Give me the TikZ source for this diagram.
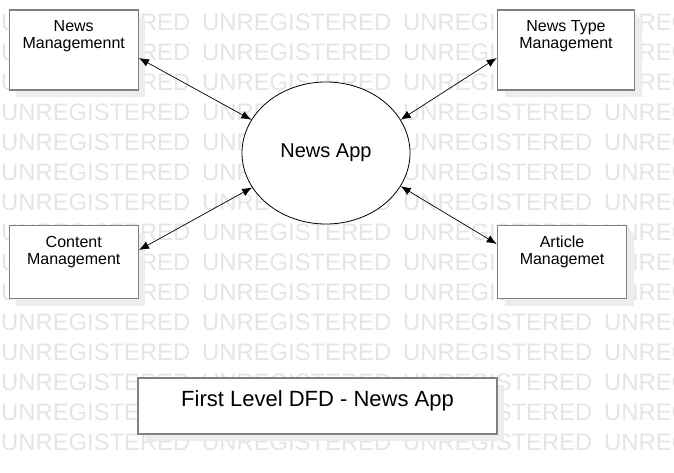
\documentclass[tikz,border=0pt]{standalone}
\usepackage{fontspec}
\setmainfont{Liberation Sans}
\usetikzlibrary{shapes.geometric,arrows.meta,shadows}

\begin{document}
\begin{tikzpicture}
      [x=1pt,y=-1pt,
       every node/.style={inner sep=0pt},
       box/.style={rectangle,draw=black!50,line width=1.5pt,fill=white,
         drop shadow={shadow xshift=7pt,shadow yshift=-7pt,fill=black!7,opacity=1}},
       boxtext/.style={anchor=north,yshift=-11pt,align=center,
         font=\fontsize{16}{17}\selectfont},
       wmark/.style={anchor=west,text=black!10,font=\fontsize{23.8}{24}\selectfont},
       flow/.style={{Latex[length=10pt,width=8pt]}-{Latex[length=10pt,width=8pt]},line width=0.7pt}]
      \useasboundingbox (0,0) rectangle (674,473);
      \clip (0,0) rectangle (674,473);
      \fill[white] (0,0) rectangle (674,473);

      % watermark rows
      \foreach \r in {0,...,14}
        \foreach \c in {0,...,3}
          \node[wmark] (wm\r\c) at (1+\c*201,22+\r*30) {UNREGISTERED};

      \node[box,minimum width=129pt,minimum height=80pt,
        label={[boxtext]north:{News\\Managemennt}}] (news) at (73.75,50) {};
      \node[box,minimum width=137pt,minimum height=80pt,
        label={[boxtext]north:{News Type\\Management}}] (type) at (566,50) {};
      \node[box,minimum width=129pt,minimum height=73pt,
        label={[boxtext]north:{Content\\Management}}] (content) at (73.75,262) {};
      \node[box,minimum width=129pt,minimum height=73pt,
        label={[boxtext]north:{Article\\Managemet}}] (article) at (562,262) {};

      \node[ellipse,draw,line width=0.8pt,fill=white,minimum width=168pt,minimum height=142pt,
        font=\fontsize{20}{24}\selectfont] (app) at (326,153) {News App};

      \foreach \from/\side/\dy/\ang in {news/east/-8/156, type/west/-8/24,
          content/east/12/205, article/west/18/336}
        \draw[flow] ([yshift=\dy pt]\from.\side) -- (app.\ang);

      \node[box,minimum width=359pt,minimum height=56pt,
        label={[anchor=north,yshift=-13pt,font=\fontsize{22}{26}\selectfont]north:{First Level DFD - News App}}]
        (title) at (317.5,406) {};
    \end{tikzpicture}
\end{document}
